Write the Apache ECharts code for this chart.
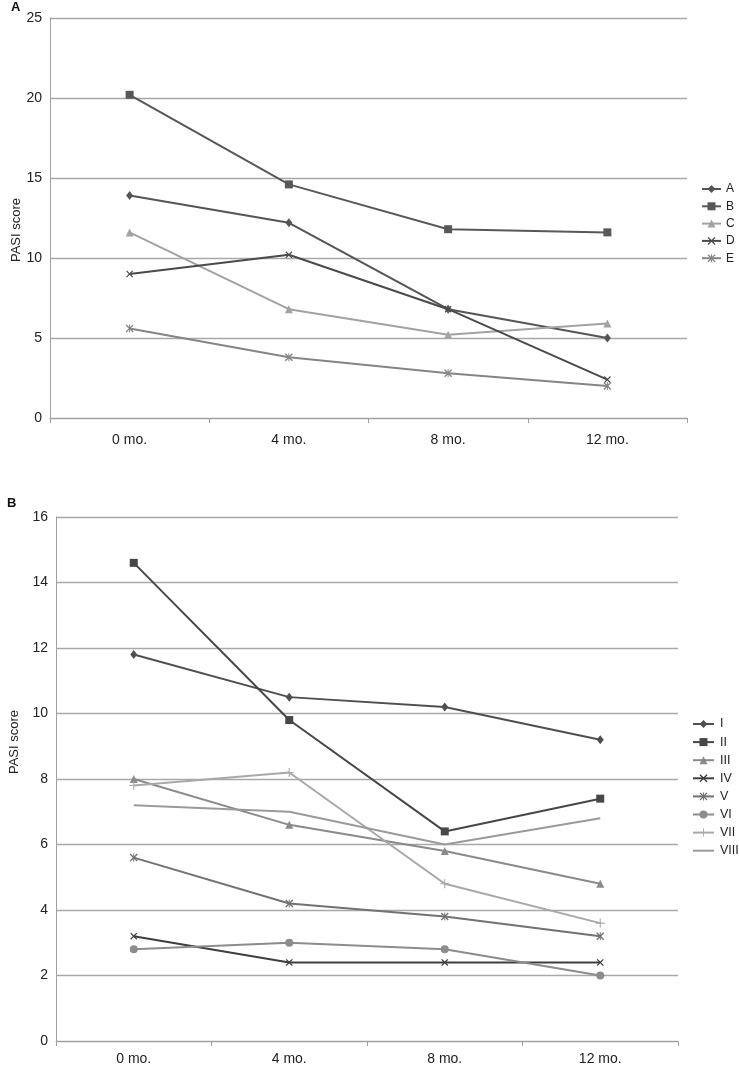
<!DOCTYPE html>
<html>
<head>
<meta charset="utf-8">
<script src="https://cdn.jsdelivr.net/npm/echarts@6/dist/echarts.min.js"></script>
<style>
html,body{margin:0;padding:0;background:#fff;}
#c{width:739px;height:1066px;}
</style>
</head>
<body>
<div id="c"></div>
<script>
// ---- data ----
const categories = ['0 mo.', '4 mo.', '8 mo.', '12 mo.'];

const topNames = ['A', 'B', 'C', 'D', 'E'];
const topA = [13.9, 12.2, 6.8, 5.0];
const topB = [20.2, 14.6, 11.8, 11.6];
const topC = [11.6, 6.8, 5.2, 5.9];
const topD = [9.0, 10.2, 6.8, 2.4];
const topE = [5.6, 3.8, 2.8, 2.0];

const botNames = ['I', 'II', 'III', 'IV', 'V', 'VI', 'VII', 'VIII'];
const botI = [11.8, 10.5, 10.2, 9.2];
const botII = [14.6, 9.8, 6.4, 7.4];
const botIII = [8.0, 6.6, 5.8, 4.8];
const botIV = [3.2, 2.4, 2.4, 2.4];
const botV = [5.6, 4.2, 3.8, 3.2];
const botVI = [2.8, 3.0, 2.8, 2.0];
const botVII = [7.8, 8.2, 4.8, 3.6];
const botVIII = [7.2, 7.0, 6.0, 6.8];

const topYTicks = { min: 0, max: 25, interval: 5 };
const botYTicks = { min: 0, max: 16, interval: 2 };

// ---- symbols ----
const X_PATH = 'path://M0,1.2 L1.2,0 L5,3.8 L8.8,0 L10,1.2 L6.2,5 L10,8.8 L8.8,10 L5,6.2 L1.2,10 L0,8.8 L3.8,5 Z';
const PLUS_PATH = 'path://M4.4,0 H5.6 V4.4 H10 V5.6 H5.6 V10 H4.4 V5.6 H0 V4.4 H4.4 Z';
const STAR_PATH = 'path://M0,1.2 L1.2,0 L5,3.8 L8.8,0 L10,1.2 L6.2,5 L10,8.8 L8.8,10 L5,6.2 L1.2,10 L0,8.8 L3.8,5 Z M4.4,0 H5.6 V10 H4.4 Z';

const narrow = "'Liberation Sans Narrow', 'Liberation Sans', Arial, sans-serif";
const sans = "'Liberation Sans', Arial, sans-serif";

function mk(name, data, color, symbol, size, xi) {
  return {
    name: name, type: 'line', data: data,
    xAxisIndex: xi, yAxisIndex: xi,
    symbol: symbol, symbolSize: size, showSymbol: symbol !== 'none',
    lineStyle: { color: color, width: 2 },
    itemStyle: { color: color },
    emphasis: { disabled: true },
    animation: false
  };
}

const series = [
  mk('A', topA, '#555555', 'diamond', [7, 9], 0),
  mk('B', topB, '#585858', 'rect', 8, 0),
  mk('C', topC, '#a2a2a2', 'triangle', 8, 0),
  mk('D', topD, '#4a4a4a', X_PATH, 7, 0),
  mk('E', topE, '#858585', STAR_PATH, 8, 0),
  mk('I', botI, '#4f4f4f', 'diamond', [7, 9], 1),
  mk('II', botII, '#474747', 'rect', 8, 1),
  mk('III', botIII, '#8a8a8a', 'triangle', 8, 1),
  mk('IV', botIV, '#3e3e3e', X_PATH, 7, 1),
  mk('V', botV, '#727272', STAR_PATH, 8, 1),
  mk('VI', botVI, '#8c8c8c', 'circle', 8, 1),
  mk('VII', botVII, '#a8a8a8', PLUS_PATH, 9, 1),
  mk('VIII', botVIII, '#9a9a9a', 'none', 0, 1)
];

function xAx(gi, margin) {
  return {
    type: 'category', gridIndex: gi, data: categories, boundaryGap: true,
    axisLine: { lineStyle: { color: '#a0a0a0', width: 1 } },
    axisTick: { show: true, length: 5, lineStyle: { color: '#a0a0a0' } },
    axisLabel: { color: '#222', fontFamily: narrow, fontSize: 14, margin: margin },
    splitLine: { show: false }
  };
}
function yAx(gi, t) {
  return {
    type: 'value', gridIndex: gi, min: t.min, max: t.max, interval: t.interval,
    axisLine: { show: true, lineStyle: { color: '#a0a0a0', width: 1 } },
    axisTick: { show: false },
    axisLabel: { color: '#222', fontFamily: narrow, fontSize: 14, margin: 8 },
    splitLine: { show: true, lineStyle: { color: '#a8a8a8', width: 1.3 } }
  };
}

const botLegendData = botNames.map(n => n === 'VIII' ? { name: n, itemStyle: { opacity: 0 } } : n);

const chart = echarts.init(document.getElementById('c'), null, { renderer: 'canvas' });
chart.setOption({
  animation: false,
  backgroundColor: '#fff',
  grid: [
    { left: 50, top: 18, width: 637, height: 400 },
    { left: 56, top: 517, width: 622, height: 527 }
  ],
  xAxis: [xAx(0, 15), xAx(1, 11)],
  yAxis: [yAx(0, topYTicks), yAx(1, botYTicks)],
  legend: [
    {
      data: topNames, orient: 'vertical', left: 701, top: 183, padding: 0,
      itemWidth: 19, itemHeight: 10, itemGap: 5.3, selectedMode: false,
      textStyle: { color: '#222', fontFamily: sans, fontSize: 12 }
    },
    {
      data: botLegendData, orient: 'vertical', left: 692, top: 717.5, padding: 0,
      width: 60, itemWidth: 21, itemHeight: 10, itemGap: 5.1, selectedMode: false,
      textStyle: { color: '#222', fontFamily: sans, fontSize: 12.5, padding: [0, 0, 0, 1], overflow: 'none' }
    }
  ],
  graphic: [
    { type: 'text', left: 11, top: 1, style: { text: 'A', font: "bold 13px " + sans, fill: '#111' } },
    { type: 'text', left: 7, top: 497, style: { text: 'B', font: "bold 13px " + sans, fill: '#111' } },
    { type: 'text', x: 16, y: 230, rotation: Math.PI / 2,
      style: { text: 'PASI score', font: "13px " + sans, fill: '#222', align: 'center', verticalAlign: 'middle' } },
    { type: 'text', x: 14, y: 742, rotation: Math.PI / 2,
      style: { text: 'PASI score', font: "13px " + sans, fill: '#222', align: 'center', verticalAlign: 'middle' } }
  ],
  series: series
});
</script>
</body>
</html>
